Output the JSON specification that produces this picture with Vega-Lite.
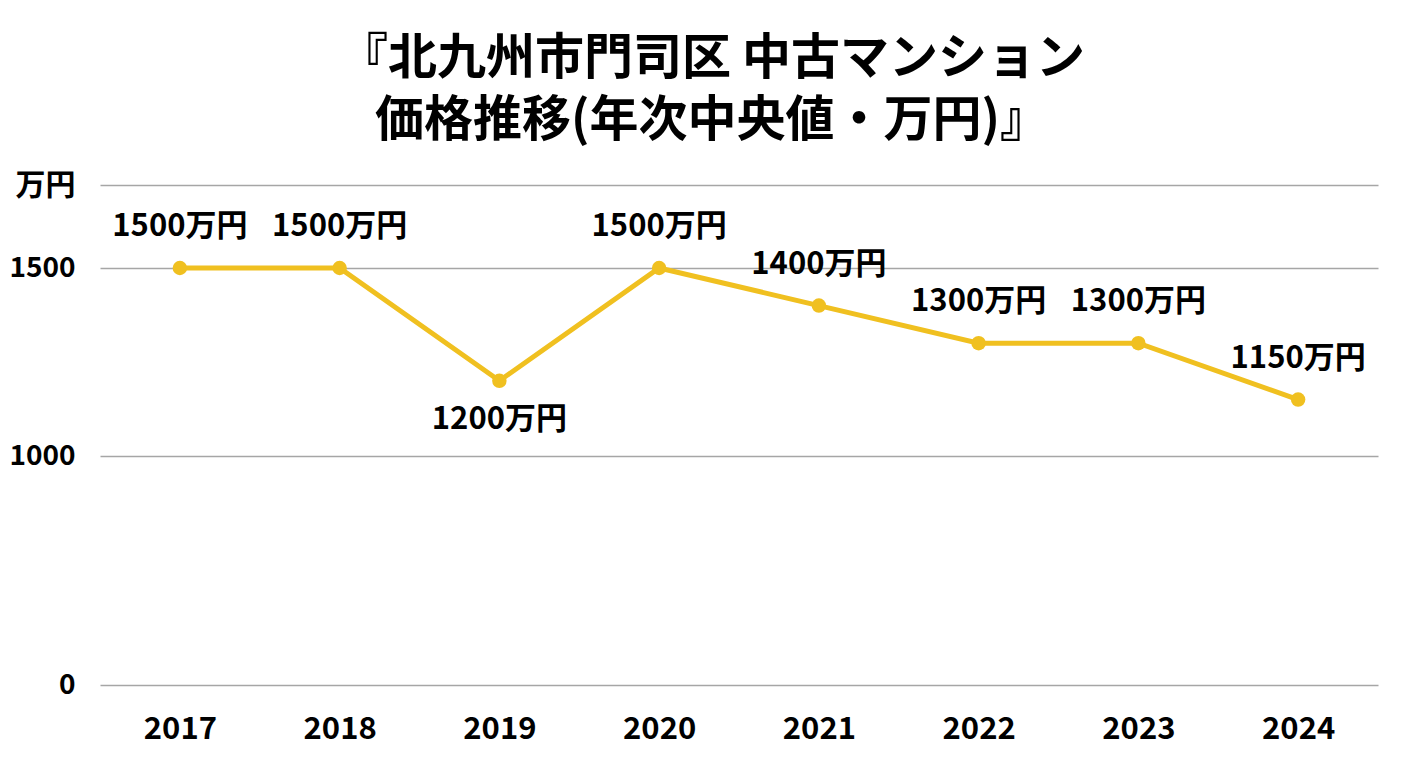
{
  "$schema": "https://vega.github.io/schema/vega-lite/v6.json",
  "width": 1278,
  "height": 500,
  "autosize": "none",
  "padding": {"left": 100, "top": 185, "right": 30, "bottom": 83},
  "background": "white",
  "title": {
    "text": ["『北九州市門司区 中古マンション", "価格推移(年次中央値・万円)』"],
    "font": "Noto Sans CJK JP",
    "fontSize": 49,
    "fontWeight": "bold",
    "color": "black",
    "anchor": "middle",
    "dx": -27,
    "offset": 24,
    "lineHeight": 62
  },
  "data": {
    "values": [
      {"year": "2017", "price": 1500},
      {"year": "2018", "price": 1500},
      {"year": "2019", "price": 1200},
      {"year": "2020", "price": 1500},
      {"year": "2021", "price": 1400},
      {"year": "2022", "price": 1300},
      {"year": "2023", "price": 1300},
      {"year": "2024", "price": 1150}
    ]
  },
  "transform": [{"calculate": "datum.price + '万円'", "as": "label"}],
  "encoding": {
    "x": {
      "field": "year",
      "type": "ordinal",
      "scale": {"type": "point", "padding": 0.5},
      "axis": {
        "title": null,
        "labelAngle": 0,
        "domain": false,
        "ticks": false,
        "labelPadding": 29,
        "labelFontSize": 31,
        "labelFontWeight": "bold"
      }
    },
    "y": {
      "field": "price",
      "type": "quantitative",
      "scale": {"domain": [0, 1000, 1500, 1720], "range": [500, 271, 83, 0]},
      "axis": {
        "title": null,
        "values": [0, 1000, 1500, 1720],
        "format": "d",
        "labelExpr": "datum.value > 1600 ? '万円' : datum.label",
        "domain": false,
        "ticks": false,
        "labelPadding": 25,
        "labelFontSize": {"expr": "datum.value > 1600 ? 30 : 28"},
        "labelFontWeight": "bold",
        "gridColor": "#a6a6a6",
        "gridWidth": 1.5
      }
    }
  },
  "layer": [
    {"mark": {"type": "line", "color": "#f0c020", "strokeWidth": 5}},
    {"mark": {"type": "point", "filled": true, "opacity": 1, "color": "#f0c020", "size": 210}},
    {
      "transform": [{"filter": "datum.year != '2019'"}],
      "mark": {"type": "text", "dy": -41, "fontSize": 31, "fontWeight": "bold", "color": "black"},
      "encoding": {"text": {"field": "label"}}
    },
    {
      "transform": [{"filter": "datum.year == '2019'"}],
      "mark": {"type": "text", "dy": 39, "fontSize": 31, "fontWeight": "bold", "color": "black"},
      "encoding": {"text": {"field": "label"}}
    }
  ],
  "config": {
    "font": "Noto Sans CJK JP",
    "view": {"stroke": null},
    "axis": {"labelColor": "black", "labelFont": "Noto Sans CJK JP"}
  }
}
